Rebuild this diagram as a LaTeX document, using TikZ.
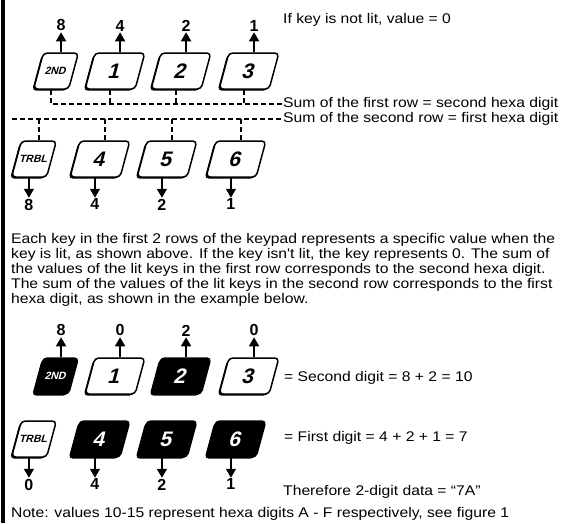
\documentclass[tikz,border=0pt]{standalone}
\usepackage{fontspec}
\setmainfont{Liberation Sans}
\newfontfamily\widesans[FakeStretch=1.12]{Liberation Sans}
\usetikzlibrary{arrows.meta,positioning,shadows}

\tikzset{
  keycap/.style={rectangle, xslant=0.27, transform shape, minimum width=50pt,
    minimum height=36pt, inner sep=0pt, rounded corners=4pt, draw, line width=1.5pt,
    fill=white, drop shadow={shadow xshift=-1.6pt, shadow yshift=-1.6pt, opacity=1, fill=black},
    font=\bfseries\fontsize{21}{21}\selectfont},
  smallkey/.style={keycap, minimum width=35pt, font=\bfseries\fontsize{10.5}{10.5}\selectfont},
  lit/.style={fill=black, text=white},
  valnum/.style={font=\bfseries\fontsize{16}{16}\selectfont, inner sep=1pt},
  valarr/.style={-{Triangle[width=10pt,length=9pt]}, line width=1.6pt},
  sumline/.style={line width=1.2pt, dash pattern=on 5pt off 3pt},
  note/.style={font=\widesans\fontsize{14}{15}\selectfont, inner sep=0pt, anchor=west}
}

\begin{document}
\begin{tikzpicture}[x={(1pt,0pt)}, y={(0pt,-1pt)}]
\useasboundingbox (0,0) rectangle (561,523);
\fill (1,0) rectangle (5,523);

% first row
\node[smallkey] (r1a) at (56,71) {2ND};
\foreach \k/\x/\t in {b/115/1,c/181/2,d/249/3}
  \node[keycap] (r1\k) at (\x,71) {\t};
\foreach \k/\v in {a/8,b/4,c/2,d/1} {
  \node[valnum, above=20pt of r1\k.north] (v1\k) {\v};
  \draw[valarr] (r1\k.north) -- (v1\k.south);
}
\node[note] (lit) at (283,20) {If key is not lit, value = 0};

% second row
\node[smallkey] (r2a) at (34,159) {TRBL};
\foreach \k/\x/\t in {b/100/4,c/167/5,d/236/6}
  \node[keycap] (r2\k) at (\x,159) {\t};
\foreach \k/\v in {a/8,b/4,c/2,d/1} {
  \node[valnum, below=20pt of r2\k.south] (v2\k) {\v};
  \draw[valarr] (r2\k.south) -- (v2\k.north);
}

% sums
\node[note] (sum1) at (283,104) {Sum of the first row = second hexa digit};
\node[note] (sum2) at (283,119) {Sum of the second row = first hexa digit};
\coordinate (s2left) at (12,119);
\draw[sumline] (r1a.south) |- (sum1.west);
\foreach \k in {b,c,d}
  \draw[sumline] (r1\k.south) -- (r1\k.south |- sum1.west);
\draw[sumline] (s2left) -- (sum2.west);
\foreach \k in {a,b,c,d}
  \draw[sumline] (r2\k.north) -- (r2\k.north |- sum2.west);

\node[note, anchor=north west, align=left] (expl) at (11,233) {%
Each key in the first 2 rows of the keypad represents a specific value when the\\
key is lit, as shown above. If the key isn't lit, the key represents 0. The sum of\\
the values of the lit keys in the first row corresponds to the second hexa digit.\\
The sum of the values of the lit keys in the second row corresponds to the first\\
hexa digit, as shown in the example below.};

% example
\node[smallkey, lit] (e1a) at (56,376) {2ND};
\node[keycap] (e1b) at (115,376) {1};
\node[keycap, lit] (e1c) at (181,376) {2};
\node[keycap] (e1d) at (249,376) {3};
\foreach \k/\v in {a/8,b/0,c/2,d/0} {
  \node[valnum, above=20pt of e1\k.north] (w1\k) {\v};
  \draw[valarr] (e1\k.north) -- (w1\k.south);
}
\node[smallkey] (e2a) at (34,439) {TRBL};
\node[keycap, lit] (e2b) at (100,439) {4};
\node[keycap, lit] (e2c) at (167,439) {5};
\node[keycap, lit] (e2d) at (236,439) {6};
\foreach \k/\v in {a/0,b/4,c/2,d/1} {
  \node[valnum, below=20pt of e2\k.south] (w2\k) {\v};
  \draw[valarr] (e2\k.south) -- (w2\k.north);
}
\node[note] (second) at (284,378) {= Second digit = 8 + 2 = 10};
\node[note] (first) at (284,438) {= First digit = 4 + 2 + 1 = 7};
\node[note] (result) at (283,492) {Therefore 2-digit data = “7A”};
\node[note] (fnote) at (11,514) {Note: values 10-15 represent hexa digits A - F respectively, see figure 1};
\end{tikzpicture}
\end{document}
